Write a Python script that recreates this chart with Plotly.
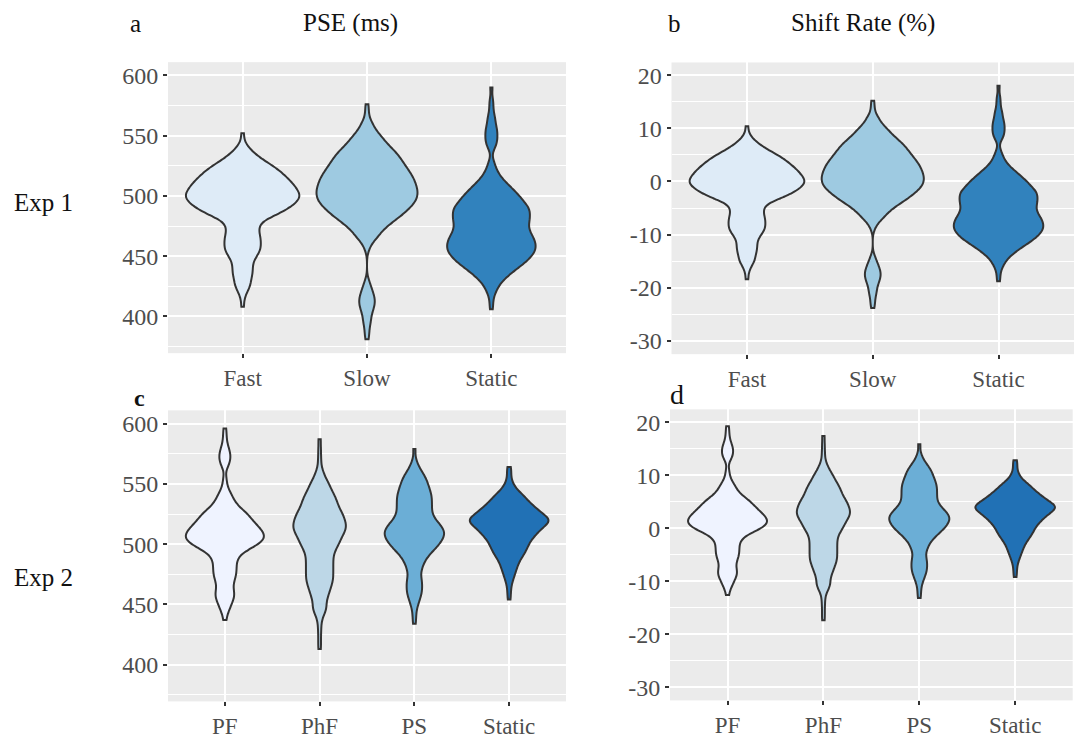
import numpy as np
import plotly.graph_objects as go

FONT = "Liberation Serif"
W, H = 1077, 739

# ---------------- data (value + frequency) ----------------
exp1_groups = ["Fast", "Slow", "Static"]
exp2_groups = ["PF", "PhF", "PS", "Static"]
exp1_colors = ["#deebf7", "#9ecae1", "#3182bd"]
exp2_colors = ["#eff3ff", "#bdd7e7", "#6baed6", "#2171b5"]

# Exp 1 - Fast
fast_pse = [408, 415, 420, 425, 430, 435, 440, 445, 450, 455, 460, 465, 470, 475, 480,
            485, 490, 495, 500, 505, 510, 515, 520, 525, 530, 535, 540, 545, 552]
fast_shift = [-18.4, -17, -16, -15, -14, -13, -12, -11, -10, -9, -8, -7, -6, -5, -4,
              -3, -2, -1, 0, 1, 2, 3, 4, 5, 6, 7, 8, 9, 10.4]
fast_n = [1, 1, 2, 4, 4, 5, 5, 5, 7, 9, 9, 9, 8, 8, 10,
          18, 23, 27, 29, 27, 25, 22, 19, 15, 10, 6, 3, 1, 1]

# Exp 1 - Slow
slow_pse = [381, 386, 390, 395, 400, 405, 410, 415, 420, 425, 430,
            455, 460, 465, 470, 475, 480, 485, 490, 495, 500, 505, 510, 515, 520,
            525, 530, 535, 540, 545, 550, 555, 560, 565, 570, 576]
slow_shift = [-23.8, -22.8, -22, -21, -20, -19, -18, -17, -16, -15, -14,
              -9, -8, -7, -6, -5, -4, -3, -2, -1, 0, 1, 2, 3, 4,
              5, 6, 7, 8, 9, 10, 11, 12, 13, 14, 15.2]
slow_n = [1, 1, 1, 2, 2, 3, 4, 4, 3, 2, 1,
          1, 2, 5, 7, 10, 14, 18, 21, 24, 25, 25, 24, 23, 21,
          19, 17, 15, 12, 9, 7, 4, 3, 1, 1, 1]

# Exp 1 - Static
static1_pse = [406, 412, 417, 421, 425, 430, 435, 440, 445, 450, 455, 460, 465, 470, 475,
               480, 485, 490, 495, 500, 505, 510, 515, 520, 525, 530,
               540, 545, 550, 555, 560, 565, 570, 575, 580, 590]
static1_shift = [-18.8, -17.6, -16.6, -15.8, -15, -14, -13, -12, -11, -10, -9, -8, -7, -6, -5,
                 -4, -3, -2, -1, 0, 1, 2, 3, 4, 5, 6,
                 8, 9, 10, 11, 12, 13, 14, 15, 16, 18]
static1_n = [1, 1, 1, 2, 3, 6, 9, 13, 17, 20, 22, 22, 21, 19, 18,
             19, 19, 19, 16, 14, 11, 8, 5, 3, 2, 1,
             2, 3, 3, 3, 2, 2, 1, 1, 1, 1]

# Exp 2 - PF
pf_pse = [437, 442, 446, 450, 455, 460, 465, 470, 475, 480, 485, 490, 495, 500, 505, 510,
          515, 520, 525, 530, 535, 540, 545, 550, 555, 565, 570, 575, 580, 585, 590, 596]
pf_shift = [-12.6, -11.6, -10.8, -10, -9, -8, -7, -6, -5, -4, -3, -2, -1, 0, 1, 2,
            3, 4, 5, 6, 7, 8, 9, 10, 11, 13, 14, 15, 16, 17, 18, 19.2]
pf_n = [1, 1, 2, 3, 5, 5, 4, 5, 6, 6, 6, 7, 11, 18, 21, 20,
        17, 14, 12, 8, 5, 4, 2, 1, 1, 2, 3, 3, 2, 1, 1, 1]

# Exp 2 - PhF
phf_pse = [413, 420, 427, 433, 438, 442, 446, 450, 455, 460, 465, 470, 475, 480, 485, 490, 495,
           500, 505, 510, 515, 520, 525, 530, 535, 540, 545, 550, 555, 560, 566, 572, 579, 587]
phf_shift = [-17.4, -16, -14.6, -13.4, -12.4, -11.6, -10.8, -10, -9, -8, -7, -6, -5, -4, -3, -2, -1,
             0, 1, 2, 3, 4, 5, 6, 7, 8, 9, 10, 11, 12, 13.2, 14.4, 15.8, 17.4]
phf_n = [1, 1, 1, 1, 1, 2, 3, 3, 4, 5, 6, 7, 7, 7, 7, 7, 8,
         10, 11, 13, 14, 13, 12, 10, 9, 8, 6, 5, 3, 2, 1, 1, 1, 1]

# Exp 2 - PS
ps_pse = [434, 440, 445, 450, 455, 460, 465, 470, 475, 480, 485, 490, 495, 500, 505,
          510, 515, 520, 525, 530, 535, 540, 545, 550, 555, 560, 565, 570, 579]
ps_shift = [-13.2, -12, -11, -10, -9, -8, -7, -6, -5, -4, -3, -2, -1, 0, 1,
            2, 3, 4, 5, 6, 7, 8, 9, 10, 11, 12, 13, 14, 15.8]
ps_n = [1, 1, 1, 2, 3, 4, 4, 4, 3, 4, 5, 7, 10, 13, 15,
        16, 14, 11, 9, 9, 9, 9, 8, 7, 6, 4, 2, 1, 1]

# Exp 2 - Static
static2_pse = [454, 460, 465, 470, 475, 480, 485, 490, 495, 500, 505, 510,
               515, 520, 525, 530, 535, 540, 545, 550, 555, 560, 564]
static2_shift = [-9.2, -8, -7, -6, -5, -4, -3, -2, -1, 0, 1, 2,
                 3, 4, 5, 6, 7, 8, 9, 10, 11, 12, 12.8]
static2_n = [1, 1, 1, 2, 3, 4, 5, 7, 9, 10, 12, 15,
             18, 23, 17, 14, 10, 8, 4, 2, 1, 1, 1]

pse_ticks = [400, 450, 500, 550, 600]
pse_ticklabels = ["400", "450", "500", "550", "600"]
pse_minor = [375, 425, 475, 525, 575]
shift_ticks = [-30, -20, -10, 0, 10, 20]
shift_ticklabels = ["-30", "-20", "-10", "0", "10", "20"]
shift_minor = [-25, -15, -5, 5, 15]

# ---------------- layout geometry (pixels) ----------------
panels = {
    "a": dict(px=(168, 566), py=(63, 358), yr=[369.5, 611], groups=exp1_groups, colors=exp1_colors,
              vals=[fast_pse, slow_pse, static1_pse], counts=[fast_n, slow_n, static1_n],
              bw=4.0, ticks=(pse_ticks, pse_ticklabels, pse_minor)),
    "b": dict(px=(671.5, 1074), py=(63.3, 359), yr=[-32.5, 22.4], groups=exp1_groups, colors=exp1_colors,
              vals=[fast_shift, slow_shift, static1_shift], counts=[fast_n, slow_n, static1_n],
              bw=0.8, ticks=(shift_ticks, shift_ticklabels, shift_minor)),
    "c": dict(px=(168, 566), py=(416, 711), yr=[369.5, 611], groups=exp2_groups, colors=exp2_colors,
              vals=[pf_pse, phf_pse, ps_pse, static2_pse], counts=[pf_n, phf_n, ps_n, static2_n],
              bw=4.0, ticks=(pse_ticks, pse_ticklabels, pse_minor)),
    "d": dict(px=(670, 1072.7), py=(415, 710), yr=[-32.5, 22.4], groups=exp2_groups, colors=exp2_colors,
              vals=[pf_shift, phf_shift, ps_shift, static2_shift], counts=[pf_n, phf_n, ps_n, static2_n],
              bw=0.8, ticks=(shift_ticks, shift_ticklabels, shift_minor)),
}

fig = go.Figure()
layout_axes = {}
xtickfont = dict(family=FONT, size=23, color="#4d4d4d")
ytickfont = dict(family=FONT, size=24, color="#4d4d4d")

for i, (key, p) in enumerate(panels.items()):
    sfx = "" if i == 0 else str(i + 1)
    xa, ya = "x" + sfx, "y" + sfx
    ngroups = len(p["groups"])
    for g, col, v, c in zip(p["groups"], p["colors"], p["vals"], p["counts"]):
        s = np.repeat(np.asarray(v, float), c)
        fig.add_trace(go.Violin(
            x=[g] * len(s), y=s, xaxis=xa, yaxis=ya,
            fillcolor=col, line=dict(color="#333333", width=2),
            bandwidth=p["bw"], spanmode="hard", scalemode="count", scalegroup=key,
            points=False, box_visible=False, meanline_visible=False,
            hoverinfo="skip", showlegend=False, opacity=1,
        ))

    tv, tt, mv = p["ticks"]
    layout_axes["xaxis" + sfx] = dict(
        domain=[p["px"][0] / W, p["px"][1] / W], anchor=ya, type="category",
        categoryorder="array", categoryarray=p["groups"], range=[-0.6, ngroups - 0.4],
        showgrid=True, gridcolor="white", gridwidth=2, zeroline=False, showline=False,
        ticks="outside", ticklen=4, tickwidth=1.5, tickcolor="#333333", tickfont=xtickfont,
        fixedrange=True,
    )
    layout_axes["yaxis" + sfx] = dict(
        domain=[1 - p["py"][1] / H, 1 - p["py"][0] / H], anchor=xa, range=p["yr"],
        tickmode="array", tickvals=tv, ticktext=tt,
        minor=dict(tickmode="array", tickvals=mv, showgrid=True, gridcolor="white", gridwidth=1, ticks=""),
        showgrid=True, gridcolor="white", gridwidth=2, zeroline=False, showline=False,
        ticks="outside", ticklen=4, tickwidth=1.5, tickcolor="#333333", tickfont=ytickfont,
        fixedrange=True,
    )


def ann(text, x, y, size=25, bold=False):
    return dict(text=("<b>%s</b>" % text) if bold else text, x=x / W, y=1 - y / H,
                xref="paper", yref="paper", xanchor="center", yanchor="middle",
                showarrow=False, font=dict(family=FONT, size=size, color="#111111"))


annotations = [
    ann("a", 135, 23.5),
    ann("PSE (ms)", 350, 23),
    ann("b", 674, 23.5),
    ann("Shift Rate (%)", 863, 23),
    ann("Exp 1", 43, 205),
    ann("Exp 2", 43, 585),
    ann("c", 139.5, 403, size=24, bold=True),
    ann("d", 677, 400, size=28),
]

fig.update_layout(
    width=W, height=H, autosize=False,
    margin=dict(l=0, r=0, t=0, b=0),
    paper_bgcolor="white", plot_bgcolor="#ebebeb",
    violinmode="overlay", violingap=0.03, violingroupgap=0,
    showlegend=False, annotations=annotations,
    font=dict(family=FONT),
    **layout_axes,
)

fig.write_html("out.html")
